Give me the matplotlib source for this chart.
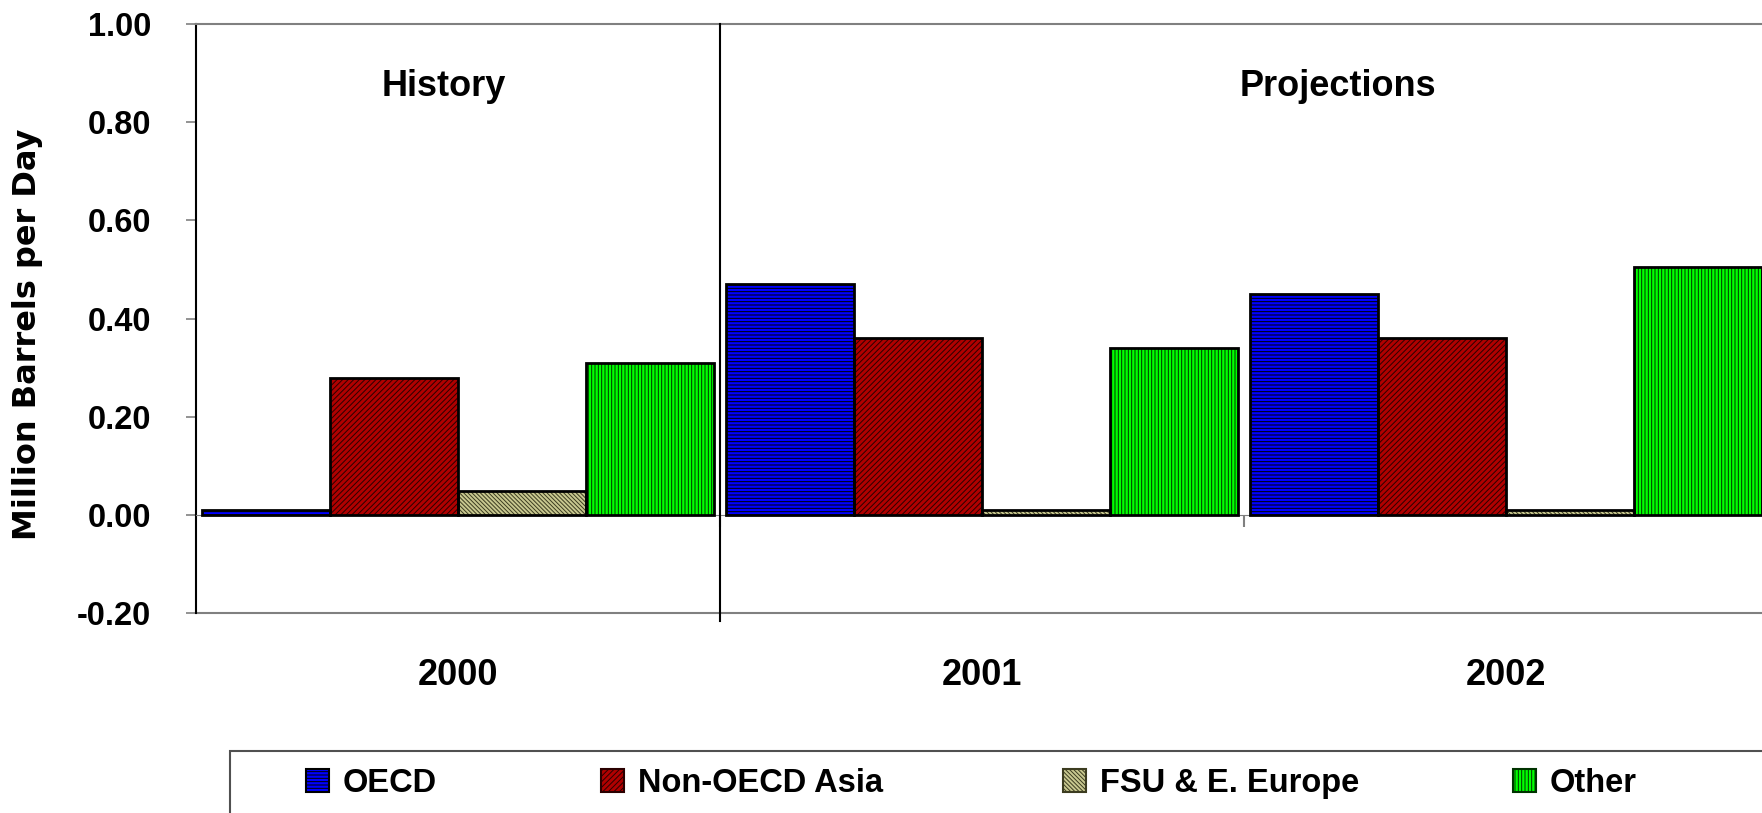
import matplotlib
matplotlib.use("Agg")
import matplotlib.pyplot as plt
from matplotlib.patches import Patch, Rectangle
import numpy as np

years = ["2000", "2001", "2002"]
regions = ["OECD", "Non-OECD Asia", "FSU & E. Europe", "Other"]
oecd = [0.01, 0.47, 0.45]
non_oecd_asia = [0.28, 0.36, 0.36]
fsu_europe = [0.05, 0.01, 0.01]
other = [0.31, 0.34, 0.505]
y_ticks = [-0.2, 0.0, 0.2, 0.4, 0.6, 0.8, 1.0]

# face colour, hatch colour, hatch pattern for each region
fills = [
    ("#0000ff", "#000000", "-----"),
    ("#b00000", "#2a0000", "//////"),
    ("#c8c890", "#3c3c20", "\\\\\\\\\\\\\\\\"),
    ("#00ff00", "#003300", "|||||"),
]

plt.rcParams["font.family"] = "Liberation Sans"
plt.rcParams["font.weight"] = "bold"
plt.rcParams["hatch.linewidth"] = 0.7

fig = plt.figure(figsize=(17.62, 8.13), dpi=100)
ax = fig.add_axes([0.1112, 0.2454, 0.8922, 0.7251])

x = np.arange(len(years))
width = 0.244
series = [oecd, non_oecd_asia, fsu_europe, other]
for i, (vals, (face, hcol, hatch)) in enumerate(zip(series, fills)):
    pos = x + (i - 1.5) * width
    ax.bar(pos, vals, width, color=face, edgecolor=hcol, hatch=hatch,
           linewidth=0, zorder=2)
    ax.bar(pos, vals, width, fill=False, edgecolor="black", linewidth=2,
           zorder=3)

ax.set_xlim(-0.5, 2.5)
ax.set_ylim(-0.2, 1.0)
ax.set_yticks(y_ticks)
ax.set_yticklabels([f"{v:.2f}" for v in y_ticks])
ax.tick_params(axis="y", length=7, width=1.2, color="#808080", pad=25,
               labelsize=23.5)

ax.spines["right"].set_visible(False)
ax.spines["top"].set_color("#808080")
ax.spines["top"].set_linewidth(1.5)
ax.spines["left"].set_linewidth(1.5)
ax.spines["bottom"].set_position(("data", 0))
ax.spines["bottom"].set_color("#808080")
ax.axhline(-0.2, color="#808080", lw=1.5, clip_on=False)

# category ticks sit between the years, labels under each year
ax.set_xticks([0.5, 1.5])
ax.set_xticklabels([])
ax.set_xticks(x, minor=True)
ax.set_xticklabels(years, minor=True)
ax.tick_params(axis="x", which="major", length=8.6, width=1.5, color="#808080")
ax.tick_params(axis="x", which="minor", length=0, pad=103, labelsize=26)

# history / projections divider
ax.axvline(0.5, ymin=-0.0127, ymax=1, color="black", lw=1.5, clip_on=False,
           zorder=4)
ax.text(-0.027, 0.872, "History", ha="center", va="center", fontsize=26)
ax.text(1.679, 0.872, "Projections", ha="center", va="center", fontsize=26)

ax.set_ylabel("Million Barrels per Day", fontsize=23, family="DejaVu Sans",
              fontweight="bold")
ax.yaxis.set_label_coords(-0.0975, 0.473)

# legend: frame box plus one entry per region
fig.add_artist(Rectangle((230 / 1762, -0.1), 1.0, 62 / 813 + 0.1,
                         transform=fig.transFigure, fill=False,
                         edgecolor="#505050", lw=1.5))
legend_x = [306, 601, 1063, 1513]
for name, (face, hcol, hatch), lx in zip(regions, fills, legend_x):
    handle = Patch(facecolor=face, edgecolor=hcol, hatch=hatch, linewidth=1.5)
    fig.legend([handle], [name], loc="center left",
               bbox_to_anchor=(lx / 1762, 30 / 813), frameon=False,
               borderpad=0, borderaxespad=0, handlelength=0.7,
               handleheight=0.7, handletextpad=0.43, fontsize=23.5)

fig.savefig("out.png", dpi=100)
